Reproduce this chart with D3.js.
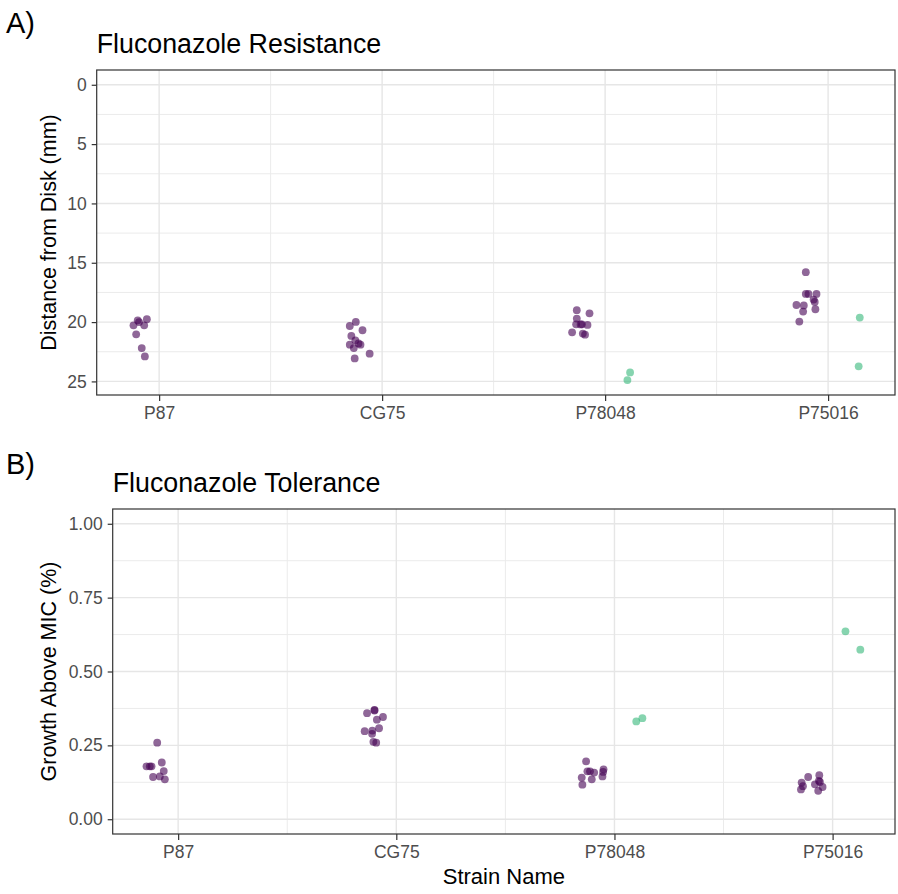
<!DOCTYPE html>
<html>
<head>
<meta charset="utf-8">
<script src="https://cdnjs.cloudflare.com/ajax/libs/d3/7.8.5/d3.min.js"></script>
<style>
  body { margin: 0; background: #fff; }
  svg { display: block; font-family: "Liberation Sans", Arial, sans-serif; }
</style>
</head>
<body>
<svg id="chart" width="898" height="894"></svg>
<script>
// strains along the x axis
var strains = ['P87', 'CG75', 'P78048', 'P75016'];

// y ticks for both panels
var resistanceTicks = [0, 5, 10, 15, 20, 25];
var toleranceTicks = [0, 0.25, 0.5, 0.75, 1];

// [strain, group, jitter (in category units), value]
// group 'a' = purple, 'b' = green
var resistancePoints = [
    ['P87', 'a', -0.096, 19.85], ['P87', 'a', -0.090, 20.0], ['P87', 'a', -0.115, 20.27],
    ['P87', 'a', -0.067, 20.27], ['P87', 'a', -0.055, 19.76], ['P87', 'a', -0.103, 21.03],
    ['P87', 'a', -0.078, 22.19], ['P87', 'a', -0.064, 22.89],

    ['CG75', 'a', -0.145, 20.33], ['CG75', 'a', -0.118, 19.99], ['CG75', 'a', -0.088, 20.69],
    ['CG75', 'a', -0.138, 21.17], ['CG75', 'a', -0.145, 21.9], ['CG75', 'a', -0.120, 21.54],
    ['CG75', 'a', -0.097, 21.9], ['CG75', 'a', -0.127, 22.19], ['CG75', 'a', -0.056, 22.66],
    ['CG75', 'a', -0.123, 23.06], ['CG75', 'a', -0.106, 21.8],

    ['P78048', 'a', -0.127, 19.0], ['P78048', 'a', -0.070, 19.26], ['P78048', 'a', -0.127, 19.7],
    ['P78048', 'a', -0.130, 20.19], ['P78048', 'a', -0.104, 20.19], ['P78048', 'a', -0.079, 20.24],
    ['P78048', 'a', -0.148, 20.86], ['P78048', 'a', -0.100, 20.97], ['P78048', 'a', -0.090, 21.06],
    ['P78048', 'a', -0.110, 20.2],
    ['P78048', 'b', 0.112, 24.24], ['P78048', 'b', 0.100, 24.89],

    ['P75016', 'a', -0.100, 15.79], ['P75016', 'a', -0.100, 17.63], ['P75016', 'a', -0.088, 17.63],
    ['P75016', 'a', -0.052, 17.63], ['P75016', 'a', -0.065, 18.1], ['P75016', 'a', -0.060, 18.3],
    ['P75016', 'a', -0.142, 18.56], ['P75016', 'a', -0.109, 18.6], ['P75016', 'a', -0.112, 19.11],
    ['P75016', 'a', -0.057, 18.92], ['P75016', 'a', -0.129, 19.96],
    ['P75016', 'b', 0.142, 19.62], ['P75016', 'b', 0.137, 23.73]
];

var tolerancePoints = [
    ['P87', 'a', -0.096, 0.259], ['P87', 'a', -0.145, 0.179], ['P87', 'a', -0.130, 0.179],
    ['P87', 'a', -0.122, 0.179], ['P87', 'a', -0.075, 0.192], ['P87', 'a', -0.066, 0.163],
    ['P87', 'a', -0.115, 0.143], ['P87', 'a', -0.084, 0.145], ['P87', 'a', -0.061, 0.135],

    ['CG75', 'a', -0.134, 0.359], ['CG75', 'a', -0.100, 0.368], ['CG75', 'a', -0.100, 0.370],
    ['CG75', 'a', -0.061, 0.346], ['CG75', 'a', -0.089, 0.337], ['CG75', 'a', -0.079, 0.308],
    ['CG75', 'a', -0.145, 0.298], ['CG75', 'a', -0.111, 0.289], ['CG75', 'a', -0.110, 0.300],
    ['CG75', 'a', -0.092, 0.259], ['CG75', 'a', -0.105, 0.262],

    ['P78048', 'a', -0.130, 0.196], ['P78048', 'a', -0.124, 0.162], ['P78048', 'a', -0.112, 0.162],
    ['P78048', 'a', -0.093, 0.158], ['P78048', 'a', -0.050, 0.169], ['P78048', 'a', -0.052, 0.160],
    ['P78048', 'a', -0.150, 0.141], ['P78048', 'a', -0.104, 0.135], ['P78048', 'a', -0.055, 0.145],
    ['P78048', 'a', -0.147, 0.117],
    ['P78048', 'b', 0.100, 0.331], ['P78048', 'b', 0.128, 0.342],

    ['P75016', 'a', -0.112, 0.143], ['P75016', 'a', -0.061, 0.149], ['P75016', 'a', -0.142, 0.124],
    ['P75016', 'a', -0.145, 0.101], ['P75016', 'a', -0.081, 0.118], ['P75016', 'a', -0.058, 0.126],
    ['P75016', 'a', -0.046, 0.109], ['P75016', 'a', -0.066, 0.096], ['P75016', 'a', -0.136, 0.112],
    ['P75016', 'a', -0.063, 0.130],
    ['P75016', 'b', 0.059, 0.636], ['P75016', 'b', 0.127, 0.574]
];

// colours (viridis ends, like ggplot)
var groupColor = { a: '#440154', b: '#35b779' };

var svg = d3.select('#chart');

// panel letters
svg.append('text').attr('x', 6).attr('y', 33).attr('font-size', 29).attr('fill', '#000').text('A)');
svg.append('text').attr('x', 6).attr('y', 474).attr('font-size', 29).attr('fill', '#000').text('B)');

function drawPanel(opts) {
    var g = svg.append('g');
    var x = d3.scaleLinear().domain(opts.xDomain).range([opts.left, opts.right]);
    var y = d3.scaleLinear().domain(opts.yDomain).range(opts.yRange);

    // minor + major grid (theme_bw look)
    var minorY = [];
    for (var i = 0; i < opts.yTicks.length - 1; i++) {
        minorY.push((opts.yTicks[i] + opts.yTicks[i + 1]) / 2);
    }
    var minorX = [1.5, 2.5, 3.5];

    g.selectAll('.minor-y').data(minorY).enter().append('line')
        .attr('x1', opts.left).attr('x2', opts.right)
        .attr('y1', function(d){ return y(d); }).attr('y2', function(d){ return y(d); })
        .attr('stroke', '#ebebeb').attr('stroke-width', 1);
    g.selectAll('.minor-x').data(minorX).enter().append('line')
        .attr('y1', opts.top).attr('y2', opts.bottom)
        .attr('x1', function(d){ return x(d); }).attr('x2', function(d){ return x(d); })
        .attr('stroke', '#ebebeb').attr('stroke-width', 1);
    g.selectAll('.major-y').data(opts.yTicks).enter().append('line')
        .attr('x1', opts.left).attr('x2', opts.right)
        .attr('y1', function(d){ return y(d); }).attr('y2', function(d){ return y(d); })
        .attr('stroke', '#e6e6e6').attr('stroke-width', 1.4);
    g.selectAll('.major-x').data([1, 2, 3, 4]).enter().append('line')
        .attr('y1', opts.top).attr('y2', opts.bottom)
        .attr('x1', function(d){ return x(d); }).attr('x2', function(d){ return x(d); })
        .attr('stroke', '#e6e6e6').attr('stroke-width', 1.4);

    // the points
    g.selectAll('circle').data(opts.points).enter().append('circle')
        .attr('cx', function(d){ return x(strains.indexOf(d[0]) + 1 + d[2]); })
        .attr('cy', function(d){ return y(d[3]); })
        .attr('r', 3.9)
        .attr('fill', function(d){ return groupColor[d[1]]; })
        .attr('fill-opacity', 0.6);

    // border
    g.append('rect')
        .attr('x', opts.left).attr('y', opts.top)
        .attr('width', opts.right - opts.left).attr('height', opts.bottom - opts.top)
        .attr('fill', 'none').attr('stroke', '#333333').attr('stroke-width', 1.2);

    // axes
    var xAxis = d3.axisBottom(x).tickValues([1, 2, 3, 4])
        .tickFormat(function(d){ return strains[d - 1]; })
        .tickSize(6).tickPadding(6);
    var yAxis = d3.axisLeft(y).tickValues(opts.yTicks)
        .tickFormat(opts.yFormat).tickSize(5).tickPadding(5);

    var gx = g.append('g').attr('transform', 'translate(0,' + opts.bottom + ')').call(xAxis);
    var gy = g.append('g').attr('transform', 'translate(' + opts.left + ',0)').call(yAxis);
    [gx, gy].forEach(function(a){
        a.select('.domain').remove();
        a.selectAll('.tick line').attr('stroke', '#333333').attr('stroke-width', 1.2);
        a.selectAll('.tick text').attr('fill', '#4d4d4d').attr('font-size', 17.5)
            .attr('font-family', '"Liberation Sans", Arial, sans-serif');
    });

    // titles
    g.append('text').attr('x', opts.left).attr('y', opts.top - 17)
        .attr('font-size', 26.8).attr('fill', '#000').text(opts.title);
    g.append('text')
        .attr('transform', 'translate(56,' + ((opts.top + opts.bottom) / 2) + ') rotate(-90)')
        .attr('text-anchor', 'middle').attr('font-size', 21.5).attr('fill', '#000')
        .text(opts.yLabel);
    return g;
}

drawPanel({
    left: 96.7, right: 895, top: 70, bottom: 395,
    xDomain: [0.72, 4.30],
    yDomain: [-1.245, 26.145], yRange: [70, 395], // reversed axis
    yTicks: resistanceTicks, yFormat: d3.format('d'),
    points: resistancePoints,
    title: 'Fluconazole Resistance',
    yLabel: 'Distance from Disk (mm)'
});

drawPanel({
    left: 112.7, right: 895, top: 509, bottom: 834,
    xDomain: [0.70, 4.286],
    yDomain: [-0.05, 1.05], yRange: [834, 509],
    yTicks: toleranceTicks, yFormat: d3.format('.2f'),
    points: tolerancePoints,
    title: 'Fluconazole Tolerance',
    yLabel: 'Growth Above MIC (%)'
});

// x axis title only on the bottom panel
svg.append('text').attr('x', (112.7 + 895) / 2).attr('y', 884)
    .attr('text-anchor', 'middle').attr('font-size', 22).attr('fill', '#000')
    .text('Strain Name');
</script>
</body>
</html>
